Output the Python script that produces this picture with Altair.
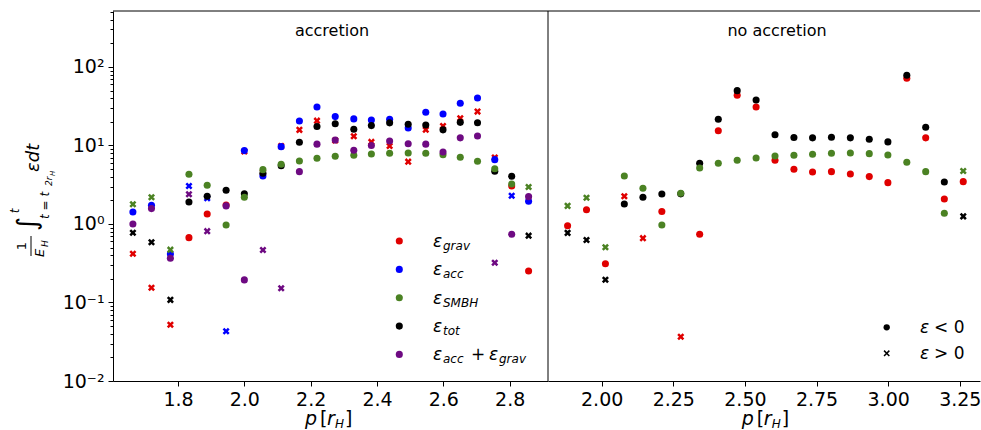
import altair as alt
import pandas as pd

FONT = "DejaVu Sans"

# ---------------- data (signed values: negative -> circle, positive -> cross) ----------------
p_left = [1.664, 1.720, 1.777, 1.833, 1.888, 1.945, 2.000, 2.056, 2.111, 2.166, 2.219, 2.274,
          2.330, 2.383, 2.438, 2.494, 2.547, 2.599, 2.651, 2.703, 2.755, 2.806, 2.857]
grav_left = [0.418, 0.154, 0.052, -0.67, -1.34, -1.74, 8.4, 4.56, 9.81, 15.8, 20.7, 11.6,
             13.1, 11.1, 9.86, 6.22, 15.9, 17.7, 22.2, 27.0, 7.0, -3.05, -0.252]
acc_left = [-1.42, -1.73, -0.415, 3.05, 2.13, 0.043, -8.6, -4.09, -9.66, -20.5, -30.9, -23.3,
            -21.8, -21.1, -21.5, -16.7, -26.5, -25.2, -34.5, -40.3, -6.6, 2.29, -1.95]
smbh_left = [1.78, 2.19, 0.471, -4.30, -3.11, -0.97, -2.19, -4.92, -5.76, -6.35, -6.87, -7.28,
             -7.50, -7.79, -7.95, -8.03, -7.95, -7.64, -7.07, -6.29, -5.06, -3.23, 2.96]
tot_left = [0.774, 0.585, 0.108, -1.91, -2.25, -2.69, -2.43, -4.42, -5.53, -11.0, -17.4, -18.9,
            -16.1, -17.9, -19.4, -18.6, -18.2, -15.8, -19.7, -19.5, -4.69, -4.05, 0.71]
accgrav_left = [-1.0, -1.57, -0.366, 2.39, 0.81, -1.70, -0.194, 0.466, 0.152, -4.64, -10.4, -11.7,
                -8.69, -10.0, -11.4, -10.5, -10.4, -8.27, -12.5, -13.2, 0.321, -0.74, -2.23]

p_right = [1.881, 1.947, 2.013, 2.079, 2.144, 2.210, 2.276, 2.342, 2.407, 2.473, 2.539, 2.605,
           2.671, 2.736, 2.802, 2.868, 2.934, 2.999, 3.065, 3.131, 3.196, 3.262]
grav_right = [-0.95, -1.52, -0.312, 2.25, 0.66, -1.44, 0.0367, -0.74, -15.4, -43.6, -30.9, -6.48,
              -4.98, -4.60, -4.64, -4.33, -4.01, -3.36, -71.8, -12.5, -2.08, -3.46]
smbh_right = [1.70, 2.16, 0.505, -4.09, -2.85, -0.97, -2.46, -5.17, -5.93, -6.48, -6.93, -7.35,
              -7.50, -7.72, -7.95, -8.03, -7.87, -7.57, -6.11, -4.64, -1.37, 4.73]
tot_right = [0.77, 0.625, 0.195, -1.80, -2.19, -2.41, -2.42, -5.93, -21.6, -49.9, -38.0, -13.7,
             -12.6, -12.5, -12.7, -12.5, -12.0, -11.1, -78.4, -17.1, -3.43, 1.25]

series_domain = ["grav", "acc", "tot", "SMBH", "accgrav"]
series_colors = ["#e00000", "#0000ff", "#000000", "#4b8223", "#6e0a82"]

x_ticks_left = [1.8, 2.0, 2.2, 2.4, 2.6, 2.8]
x_ticks_right = [2.00, 2.25, 2.50, 2.75, 3.00, 3.25]
y_major = [0.01, 0.1, 1, 10, 100]
y_minor = [m * 10.0 ** k for k in range(-2, 3) for m in range(2, 10) if m * 10.0 ** k <= 516]

X_PATH = "M-0.5,-1L0,-0.5L0.5,-1L1,-0.5L0.5,0L1,0.5L0.5,1L0,0.5L-0.5,1L-1,0.5L-0.5,0L-1,-0.5Z"
THIN_X = "M-1,-1L1,1M-1,1L1,-1"

W_L, W_R, H = 435, 432, 370


def build(p, series):
    rows = []
    for name, vals in series:
        for pi, v in zip(p, vals):
            rows.append({"p": pi, "mag": abs(v), "sign": "neg" if v < 0 else "pos", "series": name})
    return pd.DataFrame(rows)


df_left = build(p_left, [("grav", grav_left), ("acc", acc_left), ("tot", tot_left),
                         ("SMBH", smbh_left), ("accgrav", accgrav_left)])
df_right = build(p_right, [("grav", grav_right), ("tot", tot_right), ("SMBH", smbh_right)])

one = pd.DataFrame({"a": [0]})


def txt(text, x, y, size, italic=False, align="left", baseline="alphabetic", angle=0):
    return alt.Chart(pd.DataFrame({"t": [text]})).mark_text(
        align=align, baseline=baseline, angle=angle, fontSize=size, font=FONT,
        fontStyle="italic" if italic else "normal", color="black"
    ).encode(x=alt.value(x), y=alt.value(y), text="t:N")


def xaxis(values, fmt):
    return alt.Axis(values=values, format=fmt, title=None, grid=False, labelFontSize=19,
                    labelFont=FONT, labelColor="black", tickColor="black", tickSize=5,
                    tickWidth=1, domainColor="black", domainWidth=1, labelPadding=4,
                    labelFlush=False, labelOverlap=False)


major_test = "indexof([0.01, 0.1, 1, 10, 100], datum.value) >= 0"
yaxis_left = alt.Axis(
    values=y_major + y_minor, title=None, grid=False,
    labelExpr=("datum.value == 100 ? '10²' : datum.value == 10 ? '10¹' : datum.value == 1 ? '10⁰' : "
               "datum.value == 0.1 ? '10⁻¹' : datum.value == 0.01 ? '10⁻²' : ''"),
    tickSize={"condition": {"test": major_test, "value": 5}, "value": 3},
    tickColor="black", tickWidth=1, domainColor="black", domainWidth=1,
    labelFontSize=19, labelFont=FONT, labelColor="black", labelPadding=4,
    labelOverlap=False, labelFlush=False)


def points(df, xdomain, xticks, fmt, yaxis):
    return alt.Chart(df).mark_point(filled=True, opacity=1, strokeWidth=0, size=50).encode(
        x=alt.X("p:Q", scale=alt.Scale(domain=xdomain, nice=False, zero=False), axis=xaxis(xticks, fmt)),
        y=alt.Y("mag:Q", scale=alt.Scale(type="log", domain=[0.01, 516], nice=False), axis=yaxis),
        color=alt.Color("series:N", scale=alt.Scale(domain=series_domain, range=series_colors), legend=None),
        shape=alt.Shape("sign:N", scale=alt.Scale(domain=["neg", "pos"], range=["circle", X_PATH]), legend=None),
    )


def rule(x, y, x2=None, y2=None, opacity=1.0):
    enc = {"x": alt.value(x), "y": alt.value(y)}
    if x2 is not None:
        enc["x2"] = alt.value(x2)
    if y2 is not None:
        enc["y2"] = alt.value(y2)
    return alt.Chart(one).mark_rule(color="black", strokeWidth=1, strokeOpacity=opacity).encode(**enc)


def dot(x, y, color, shape="circle", size=50, filled=True):
    if filled:
        m = alt.Chart(one).mark_point(filled=True, shape=shape, size=size, color=color, opacity=1, strokeWidth=0)
    else:
        m = alt.Chart(one).mark_point(filled=False, shape=shape, size=size, color=color, opacity=1, strokeWidth=1.5)
    return m.encode(x=alt.value(x), y=alt.value(y))


# ---------------- left panel ----------------
OX, OY = 113, 11
L = []
L.append(points(df_left, [1.604, 2.9155], x_ticks_left, ".1f", yaxis_left))
L.append(rule(0, 0, x2=W_L))
L.append(rule(W_L, 0, y2=H))
L.append(rule(-OX, -OY, y2=430 - OY, opacity=0))  # page bounds
L.append(txt("accretion", 219, 25, 16, align="center"))

# legend
leg_y = [230, 258.4, 286.8, 315.1, 343.4]
leg_sub = ["grav", "acc", "SMBH", "tot", "acc"]
leg_col = ["#e00000", "#0000ff", "#4b8223", "#000000", "#6e0a82"]
for yy, sub, col in zip(leg_y, leg_sub, leg_col):
    L.append(dot(286.3, yy, col))
    L.append(txt("ε", 320, yy + 6, 17, italic=True))
    L.append(txt(sub, 330, yy + 9, 12, italic=True))
L.append(txt("+", 358, leg_y[4] + 6, 17))
L.append(txt("ε", 376, leg_y[4] + 6, 17, italic=True))
L.append(txt("grav", 386, leg_y[4] + 9, 12, italic=True))

# y label (rotated mathtext approximation), absolute coords minus panel origin
def ay(text, xa, ya, size, italic=True, align="left", baseline="alphabetic"):
    return txt(text, xa - OX, ya - OY, size, italic=italic, align=align, baseline=baseline, angle=270)

L.append(ay("1", 21.5, 246, 13, italic=False, align="center", baseline="middle"))
L.append(rule(31 - OX, 236 - OY, y2=256 - OY))
L.append(ay("E", 44, 257, 13))
L.append(ay("H", 48, 247, 9))
L.append(ay("∫", 28, 224, 27, italic=False, align="center", baseline="middle"))
L.append(ay("t", 15, 211, 12, align="center", baseline="middle"))
L.append(ay("t = t", 49, 219, 12))
L.append(ay("2r", 52, 186, 9))
L.append(ay("H", 55, 176, 7))
L.append(ay("εdt", 38.5, 172, 18))

# x title
def xt(x0, layers):
    layers.append(txt("p", x0, 414, 19, italic=True))
    layers.append(txt("[", x0 + 15, 414, 19))
    layers.append(txt("r", x0 + 22, 414, 19, italic=True))
    layers.append(txt("H", x0 + 30, 417, 12, italic=True))
    layers.append(txt("]", x0 + 40, 414, 19))

xt(192, L)
left = alt.layer(*L).properties(width=W_L, height=H)

# ---------------- right panel ----------------
R = []
R.append(points(df_right, [1.8126, 3.3205], x_ticks_right, ".2f", None))
R.append(rule(0, 0, x2=W_R))
R.append(txt("no accretion", 229, 25, 16, align="center"))
R.append(dot(338.7, 316.3, "black", size=40))
R.append(dot(338.7, 342.3, "black", shape=THIN_X, size=28, filled=False))
R.append(txt("ε", 372, 322.3, 17, italic=True))
R.append(txt("< 0", 386, 322.3, 17))
R.append(txt("ε", 372, 348.3, 17, italic=True))
R.append(txt("> 0", 386, 348.3, 17))
xt(193.7, R)
right = alt.layer(*R).properties(width=W_R, height=H)

chart = alt.hconcat(left, right, spacing=0, bounds="flush").properties(padding=0).configure_view(stroke=None)

chart.save("out.html", embed_options={"renderer": "svg", "actions": False})
